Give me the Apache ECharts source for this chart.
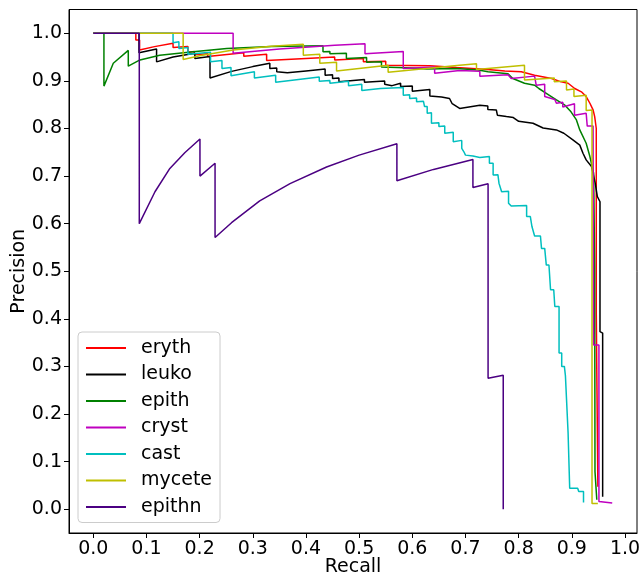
<!DOCTYPE html>
<html>
<head>
<meta charset="utf-8">
<script src="https://cdn.jsdelivr.net/npm/echarts@6/dist/echarts.min.js"></script>
<style>html,body{margin:0;padding:0;background:#fff;}#c{width:641px;height:577px;}</style>
</head>
<body>
<div id="c"></div>
<script>
// Series names (legend order)
var names = ['eryth', 'leuko', 'epith', 'cryst', 'cast', 'mycete', 'epithn'];
var colors = ['#ff0000', '#000000', '#008000', '#bf00bf', '#00bfbf', '#bfbf00', '#4b0082'];
var tickValues = [0.0, 0.1, 0.2, 0.3, 0.4, 0.5, 0.6, 0.7, 0.8, 0.9, 1.0];

// [recall, precision] pairs
var eryth = [[0,1],[0.080,1],[0.080,0.986],[0.087,0.986],[0.087,0.965],[0.115,0.972],[0.150,0.979],[0.150,0.970],[0.178,0.972],[0.178,0.960],[0.190,0.962],[0.190,0.955],[0.215,0.957],[0.215,0.951],[0.283,0.959],[0.283,0.952],[0.326,0.956],[0.326,0.943],[0.400,0.947],[0.454,0.950],[0.454,0.944],[0.508,0.947],[0.508,0.940],[0.550,0.941],[0.550,0.933],[0.633,0.932],[0.683,0.928],[0.683,0.924],[0.742,0.924],[0.774,0.921],[0.805,0.919],[0.830,0.912],[0.862,0.905],[0.880,0.898],[0.893,0.895],[0.9055,0.884],[0.918,0.877],[0.927,0.867],[0.934,0.853],[0.940,0.839],[0.943,0.825],[0.946,0.800],[0.946,0.412],[0.949,0.412],[0.949,0.047]];
var leuko = [[0,1],[0.086,1],[0.086,0.959],[0.119,0.967],[0.119,0.940],[0.150,0.950],[0.191,0.958],[0.191,0.947],[0.2195,0.951],[0.2195,0.906],[0.260,0.920],[0.300,0.930],[0.332,0.937],[0.332,0.926],[0.345,0.927],[0.345,0.919],[0.365,0.917],[0.400,0.921],[0.436,0.925],[0.436,0.912],[0.450,0.913],[0.450,0.905],[0.462,0.906],[0.462,0.898],[0.510,0.903],[0.510,0.897],[0.548,0.900],[0.548,0.893],[0.562,0.890],[0.578,0.895],[0.578,0.888],[0.600,0.889],[0.600,0.878],[0.633,0.882],[0.633,0.868],[0.655,0.866],[0.670,0.863],[0.675,0.852],[0.689,0.842],[0.727,0.849],[0.742,0.847],[0.742,0.840],[0.758,0.839],[0.760,0.828],[0.777,0.825],[0.790,0.823],[0.800,0.815],[0.827,0.811],[0.846,0.801],[0.871,0.797],[0.885,0.790],[0.902,0.776],[0.915,0.765],[0.921,0.748],[0.927,0.734],[0.937,0.720],[0.940,0.706],[0.944,0.685],[0.948,0.657],[0.953,0.646],[0.953,0.373],[0.958,0.370],[0.958,0.026]];
var epith = [[0,1],[0.020,1],[0.020,0.889],[0.0376,0.937],[0.0658,0.964],[0.0658,0.931],[0.0878,0.944],[0.125,0.954],[0.188,0.961],[0.251,0.968],[0.335,0.972],[0.432,0.974],[0.432,0.961],[0.445,0.962],[0.445,0.957],[0.476,0.958],[0.476,0.947],[0.514,0.949],[0.514,0.939],[0.542,0.940],[0.542,0.929],[0.601,0.927],[0.627,0.925],[0.683,0.926],[0.724,0.923],[0.7425,0.919],[0.780,0.915],[0.789,0.905],[0.811,0.895],[0.830,0.891],[0.838,0.884],[0.852,0.874],[0.871,0.860],[0.887,0.849],[0.8985,0.835],[0.9087,0.818],[0.915,0.797],[0.927,0.769],[0.934,0.741],[0.941,0.706],[0.943,0.510],[0.9436,0.079],[0.947,0.076],[0.947,0.020]];
var cryst = [[0,1],[0.263,1],[0.263,0.958],[0.350,0.967],[0.454,0.975],[0.511,0.978],[0.511,0.957],[0.583,0.962],[0.583,0.926],[0.642,0.929],[0.642,0.916],[0.689,0.922],[0.727,0.920],[0.727,0.910],[0.780,0.913],[0.786,0.905],[0.830,0.910],[0.833,0.891],[0.849,0.893],[0.849,0.867],[0.868,0.861],[0.871,0.853],[0.883,0.855],[0.883,0.845],[0.905,0.852],[0.905,0.828],[0.927,0.832],[0.929,0.805],[0.940,0.805],[0.941,0.345],[0.951,0.345],[0.951,0.016],[0.976,0.013]];
var cast = [[0,1],[0.150,1],[0.150,0.980],[0.161,0.982],[0.161,0.968],[0.178,0.970],[0.178,0.956],[0.2205,0.960],[0.2205,0.940],[0.242,0.943],[0.242,0.926],[0.259,0.928],[0.259,0.911],[0.303,0.919],[0.303,0.906],[0.343,0.912],[0.343,0.897],[0.425,0.908],[0.425,0.899],[0.445,0.901],[0.445,0.895],[0.480,0.899],[0.480,0.890],[0.505,0.893],[0.505,0.880],[0.540,0.884],[0.583,0.886],[0.583,0.870],[0.595,0.871],[0.595,0.863],[0.608,0.864],[0.608,0.856],[0.621,0.857],[0.623,0.846],[0.628,0.846],[0.628,0.832],[0.636,0.833],[0.636,0.811],[0.650,0.812],[0.650,0.804],[0.661,0.805],[0.661,0.790],[0.677,0.792],[0.677,0.772],[0.693,0.775],[0.693,0.758],[0.697,0.751],[0.700,0.744],[0.714,0.742],[0.727,0.739],[0.745,0.741],[0.745,0.727],[0.752,0.727],[0.752,0.702],[0.761,0.703],[0.763,0.685],[0.768,0.667],[0.781,0.668],[0.781,0.643],[0.786,0.637],[0.815,0.638],[0.815,0.615],[0.822,0.615],[0.825,0.594],[0.830,0.574],[0.841,0.574],[0.843,0.548],[0.849,0.548],[0.852,0.513],[0.857,0.513],[0.860,0.461],[0.866,0.461],[0.868,0.426],[0.876,0.426],[0.876,0.328],[0.881,0.328],[0.881,0.300],[0.886,0.300],[0.888,0.280],[0.891,0.280],[0.893,0.160],[0.895,0.160],[0.896,0.044],[0.911,0.044],[0.913,0.037],[0.922,0.037],[0.922,0.014]];
var mycete = [[0,1],[0.169,1],[0.169,0.945],[0.200,0.953],[0.263,0.965],[0.335,0.973],[0.395,0.977],[0.395,0.954],[0.426,0.956],[0.426,0.937],[0.4575,0.939],[0.4575,0.921],[0.5545,0.933],[0.5545,0.918],[0.689,0.933],[0.7207,0.936],[0.7207,0.924],[0.811,0.933],[0.811,0.902],[0.867,0.906],[0.867,0.898],[0.890,0.900],[0.890,0.881],[0.904,0.883],[0.904,0.867],[0.927,0.870],[0.927,0.838],[0.938,0.839],[0.938,0.012],[0.949,0.012]];
var epithn = [[0,1],[0.0865,1],[0.0865,0.600],[0.116,0.667],[0.144,0.716],[0.172,0.749],[0.2006,0.778],[0.2006,0.700],[0.229,0.727],[0.229,0.571],[0.260,0.602],[0.313,0.648],[0.370,0.684],[0.4387,0.719],[0.500,0.744],[0.571,0.768],[0.571,0.690],[0.640,0.714],[0.714,0.735],[0.714,0.676],[0.7425,0.684],[0.7425,0.275],[0.771,0.2815],[0.771,0.0]];

var seriesData = [eryth, leuko, epith, cryst, cast, mycete, epithn];

var FONT = 'DejaVu Sans';
var FS = 19;

var chart = echarts.init(document.getElementById('c'), null, {renderer: 'canvas'});
var option = {
  animation: false,
  backgroundColor: '#ffffff',
  grid: {left: 69, top: 9.5, width: 568, height: 523.5, show: true, borderColor: '#000', borderWidth: 1, backgroundColor: 'transparent', containLabel: false, outerBoundsMode: 'none'},
  xAxis: {
    type: 'value', min: -0.0457, max: 1.0226,
    name: 'Recall', nameLocation: 'middle', nameGap: 25, nameMoveOverlap: false,
    nameTextStyle: {fontFamily: FONT, fontSize: FS, color: '#000', verticalAlign: 'top'},
    axisLine: {show: true, onZero: false, lineStyle: {color: '#000', width: 1}},
    axisTick: {show: true, length: 5, lineStyle: {color: '#000', width: 1}, customValues: tickValues},
    axisLabel: {fontFamily: FONT, fontSize: FS, color: '#000', margin: 7, customValues: tickValues, formatter: function (v) { return v.toFixed(1); }},
    splitLine: {show: false}
  },
  yAxis: {
    type: 'value', min: -0.05, max: 1.05,
    name: 'Precision', nameLocation: 'middle', nameGap: 40, nameRotate: 90, nameMoveOverlap: false,
    nameTextStyle: {fontFamily: FONT, fontSize: FS, color: '#000'},
    axisLine: {show: true, onZero: false, lineStyle: {color: '#000', width: 1}},
    axisTick: {show: true, length: 5, lineStyle: {color: '#000', width: 1}, customValues: tickValues},
    axisLabel: {fontFamily: FONT, fontSize: FS, color: '#000', margin: 7, customValues: tickValues, formatter: function (v) { return v.toFixed(1); }},
    splitLine: {show: false}
  },
  legend: {
    orient: 'vertical', left: 78, top: 332,
    data: names,
    icon: 'rect', itemWidth: 40, itemHeight: 2, itemGap: 7.5,
    padding: [6.5, 8, 6, 8],
    backgroundColor: 'rgba(255,255,255,0.8)', borderColor: '#cccccc', borderWidth: 1, borderRadius: 4,
    textStyle: {fontFamily: FONT, fontSize: FS, color: '#000', lineHeight: 19, padding: [0, 0, 0, 10]},
    selectedMode: false
  },
  series: names.map(function (n, i) {
    return {
      name: n, type: 'line', data: seriesData[i],
      showSymbol: false, symbol: 'none', color: colors[i],
      lineStyle: {color: colors[i], width: 1.5},
      clip: true
    };
  })
};
chart.setOption(option);
</script>
</body>
</html>
